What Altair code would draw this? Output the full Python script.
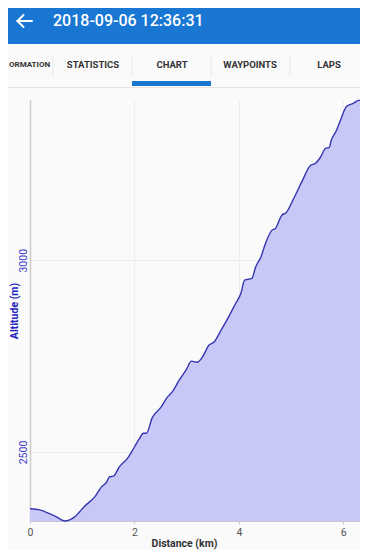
import altair as alt
import pandas as pd

# Track profile
dist_km = [0.00, 0.19, 0.29, 0.48, 0.67, 0.76, 0.86, 0.95, 1.05, 1.24, 1.37, 1.47, 1.52, 1.60,
           1.71, 1.87, 2.00, 2.10, 2.17, 2.23, 2.34, 2.51, 2.63, 2.72, 2.86, 2.99, 3.09, 3.20,
           3.30, 3.43, 3.52, 3.66, 3.77, 3.94, 4.04, 4.11, 4.25, 4.32, 4.42, 4.51, 4.63, 4.70,
           4.82, 4.91, 5.05, 5.20, 5.37, 5.47, 5.56, 5.66, 5.73, 5.77, 5.87, 5.96, 6.06, 6.19,
           6.29, 6.32]
altitude_m = [2352, 2349, 2344, 2333, 2320, 2323, 2331, 2344, 2359, 2383, 2409, 2422, 2435, 2437,
              2461, 2484, 2513, 2536, 2549, 2549, 2589, 2617, 2643, 2656, 2688, 2714, 2737, 2734,
              2747, 2779, 2786, 2818, 2844, 2888, 2914, 2948, 2953, 2982, 3008, 3044, 3078, 3083,
              3117, 3125, 3161, 3203, 3247, 3253, 3268, 3292, 3294, 3313, 3339, 3370, 3401, 3409,
              3417, 3417]
alt_floor = 2320
x_ticks = [0, 2, 4, 6]
y_ticks = [2500, 3000]
header_title = "2018-09-06 12:36:31"
tab_labels = ["ORMATION", "STATISTICS", "CHART", "WAYPOINTS", "LAPS"]

df = pd.DataFrame({"dist": dist_km, "alt": altitude_m})
one = pd.DataFrame({"k": [0]})

BLUE = "#1976d2"


def rect(x, x2, y, y2, color):
    return alt.Chart(one).mark_rect(color=color).encode(
        x=alt.value(x), x2=alt.value(x2), y=alt.value(y), y2=alt.value(y2))


def rule(x, x2, y, y2, color, w, cap="butt"):
    return alt.Chart(one).mark_rule(color=color, strokeWidth=w, strokeCap=cap).encode(
        x=alt.value(x), x2=alt.value(x2), y=alt.value(y), y2=alt.value(y2))


def label(text, x, y, size, weight, color, align="center"):
    return alt.Chart(one).mark_text(
        text=text, fontSize=size, fontWeight=weight, color=color, align=align,
        baseline="middle", font="Roboto").encode(x=alt.value(x), y=alt.value(y))


header = [
    rect(-22, 330, -92, -56, BLUE),
    rule(-12.5, 2, -79, -79, "white", 2, "round"),
    rule(-12.5, -6.5, -79, -85, "white", 2, "round"),
    rule(-12.5, -6.5, -79, -73, "white", 2, "round"),
    label(header_title, 23, -79, 16, 500, "white", "left"),
    rule(-22, 330, -12.5, -12.5, "#e4e4e4", 1),
    rule(23, 23, -45, -24, "#e8e8e8", 1),
    rule(102, 102, -45, -24, "#e8e8e8", 1),
    rule(181, 181, -45, -24, "#e8e8e8", 1),
    rule(260, 260, -45, -24, "#e8e8e8", 1),
    rect(102, 181, -19, -14, BLUE),
    label(tab_labels[0], -21, -35, 8, "bold", "#333333", "left"),
    label(tab_labels[1], 63, -35, 9.5, "bold", "#333333"),
    label(tab_labels[2], 142, -35, 9.5, "bold", "#333333"),
    label(tab_labels[3], 220, -35, 9.5, "bold", "#333333"),
    label(tab_labels[4], 299, -35, 9.5, "bold", "#333333"),
]

x_axis = alt.Axis(
    values=x_ticks, format="d", labelFlush=False, labelColor="#555555", labelFontSize=10.5,
    labelFont="Roboto", labelPadding=3, tickSize=3, tickColor="#cccccc", domainColor="#c4c4d4",
    domainWidth=1, grid=True, gridColor="#ededed", title="Distance (km)", titleFont="Roboto",
    titleFontSize=10.5, titleFontWeight="bold", titleColor="#333333", titleX=154, titleY=22,
    titleAlign="center", titleBaseline="middle")

y_axis = alt.Axis(
    values=y_ticks, format="d", labelAngle=270, labelAlign="center", labelBaseline="bottom",
    labelPadding=2, ticks=False, tickSize=0, labelColor="#3a3ac8", labelFontSize=10.5,
    labelFont="Roboto", domainColor="#cccccc", domainWidth=1.5, grid=True, gridColor="#ededed",
    title="Altitude (m)", titleFont="Roboto", titleFontSize=10.5, titleFontWeight="bold",
    titleColor="#2424c0", titleX=-16, titleY=210.5, titleAngle=270, titleAlign="center",
    titleBaseline="middle")

area = alt.Chart(df).mark_area(
    color="#c8c8f8", opacity=1, interpolate="monotone",
    line={"color": "#3535b0", "strokeWidth": 1.4}).encode(
    x=alt.X("dist:Q", scale=alt.Scale(domain=[0, 6.32], nice=False, zero=False), axis=x_axis),
    y=alt.Y("alt:Q", scale=alt.Scale(domain=[alt_floor, 3418], nice=False, zero=False), axis=y_axis),
    y2=alt.datum(alt_floor),
)

chart = alt.layer(area, *header).properties(
    width=330, height=421, autosize="none",
    padding={"left": 22, "top": 92, "right": 0, "bottom": 29},
    background="#fafafa",
).configure_view(stroke=None)

chart.save("out.html", embed_options={"renderer": "svg", "actions": False})
